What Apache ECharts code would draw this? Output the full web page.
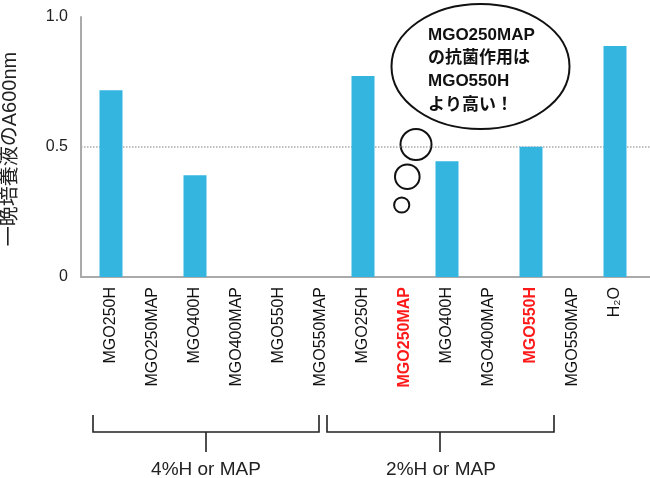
<!DOCTYPE html>
<html>
<head>
<meta charset="utf-8">
<script src="https://cdn.jsdelivr.net/npm/echarts@6/dist/echarts.min.js"></script>
<style>html,body{margin:0;padding:0;background:#fff;}#c{width:650px;height:478px;}</style>
</head>
<body>
<div id="c"></div>
<script>
const categories = ['MGO250H','MGO250MAP','MGO400H','MGO400MAP','MGO550H','MGO550MAP','MGO250H','MGO250MAP','MGO400H','MGO400MAP','MGO550H','MGO550MAP','H₂O'];
const values = [0.718, null, 0.391, null, null, null, 0.773, null, 0.445, null, 0.501, null, 0.888];
const highlighted = [false,false,false,false,false,false,false,true,false,false,true,false,false];
const yTicks = [0, 0.5, 1.0];
const yTickLabels = ['0', '0.5', '1.0'];
const groupLabels = ['4%H or MAP', '2%H or MAP'];
const bubbleLines = ['MGO250MAP', 'の抗菌作用は', 'MGO550H', 'より高い！'];
const yName = '一晩培養液のA600nm';

const FONT = "'Liberation Sans', 'Noto Sans CJK JP', sans-serif";
const chart = echarts.init(document.getElementById('c'), null, {renderer: 'canvas'});

const bracketStyle = {stroke: '#222', lineWidth: 1.6, fill: null};
const circleStyle = {stroke: '#111', lineWidth: 2, fill: '#fff'};

chart.setOption({
  animation: false,
  backgroundColor: '#fff',
  grid: [
    {left: 81, right: 0, top: 17, bottom: 201, containLabel: false, outerBoundsMode: 'none'},
    {left: 90, right: 14, top: 17, bottom: 201, containLabel: false, outerBoundsMode: 'none'}
  ],
  xAxis: [
    {gridIndex: 0, type: 'value', min: 0, max: 1,
      axisLine: {show: true, onZero: false, lineStyle: {color: '#aaa', width: 2}},
      axisTick: {show: false}, axisLabel: {show: false}, splitLine: {show: false}},
    {gridIndex: 1, type: 'category', data: categories,
      axisLine: {show: false}, axisTick: {show: false},
      axisLabel: {
        interval: 0, rotate: 90, margin: 10, fontFamily: FONT, fontSize: 16, color: '#111',
        formatter: function (v, i) { return highlighted[i] ? '{r|' + v + '}' : v; },
        rich: {r: {color: '#ff1a1a', fontWeight: 'bold', fontFamily: FONT, fontSize: 16}}
      }}
  ],
  yAxis: [
    {gridIndex: 0, type: 'value', min: yTicks[0], max: yTicks[yTicks.length - 1], interval: 0.5,
      axisLine: {show: true, lineStyle: {color: '#aaa', width: 2}},
      axisTick: {show: false},
      axisLabel: {margin: 13, fontFamily: FONT, fontSize: 16, color: '#222',
        formatter: function (v) { const i = yTicks.indexOf(v); return i >= 0 ? yTickLabels[i] : ''; }},
      splitLine: {show: true, lineStyle: {type: 'dotted', width: 1.5, color: ['rgba(0,0,0,0)', '#aaa', 'rgba(0,0,0,0)']}}},
    {gridIndex: 1, type: 'value', min: yTicks[0], max: yTicks[yTicks.length - 1], interval: 0.5, show: false,
      splitLine: {show: false}}
  ],
  series: [{
    type: 'bar', xAxisIndex: 1, yAxisIndex: 1, data: values, barWidth: 23,
    itemStyle: {color: '#33b5e0'}
  }],
  graphic: [
    {type: 'text', x: 10, y: 149, rotation: Math.PI / 2, style: {text: yName, fontFamily: FONT, fontSize: 20, fill: '#222', align: 'center', verticalAlign: 'middle'}},
    {type: 'polyline', shape: {points: [[93,415],[93,432],[319,432],[319,415]]}, style: bracketStyle},
    {type: 'line', shape: {x1: 206, y1: 432, x2: 206, y2: 452}, style: bracketStyle},
    {type: 'polyline', shape: {points: [[327,415],[327,432],[554,432],[554,415]]}, style: bracketStyle},
    {type: 'line', shape: {x1: 440, y1: 432, x2: 440, y2: 452}, style: bracketStyle},
    {type: 'text', x: 206, y: 470, style: {text: groupLabels[0], fontFamily: FONT, fontSize: 19, fill: '#222', align: 'center', verticalAlign: 'middle'}},
    {type: 'text', x: 441, y: 470, style: {text: groupLabels[1], fontFamily: FONT, fontSize: 19, fill: '#222', align: 'center', verticalAlign: 'middle'}},
    {type: 'ellipse', shape: {cx: 480.5, cy: 66.5, rx: 89, ry: 62.5}, style: circleStyle},
    {type: 'circle', shape: {cx: 416, cy: 144.5, r: 15.5}, style: circleStyle},
    {type: 'circle', shape: {cx: 407.3, cy: 176.7, r: 12.3}, style: circleStyle},
    {type: 'circle', shape: {cx: 401.7, cy: 205, r: 7.6}, style: circleStyle},
    {type: 'text', x: 428, y: 23.5, style: {text: bubbleLines.join('\n'), fontFamily: FONT, fontSize: 17, fontWeight: 'bold', fill: '#111', lineHeight: 23.3, align: 'left', verticalAlign: 'top'}}
  ]
});
</script>
</body>
</html>
